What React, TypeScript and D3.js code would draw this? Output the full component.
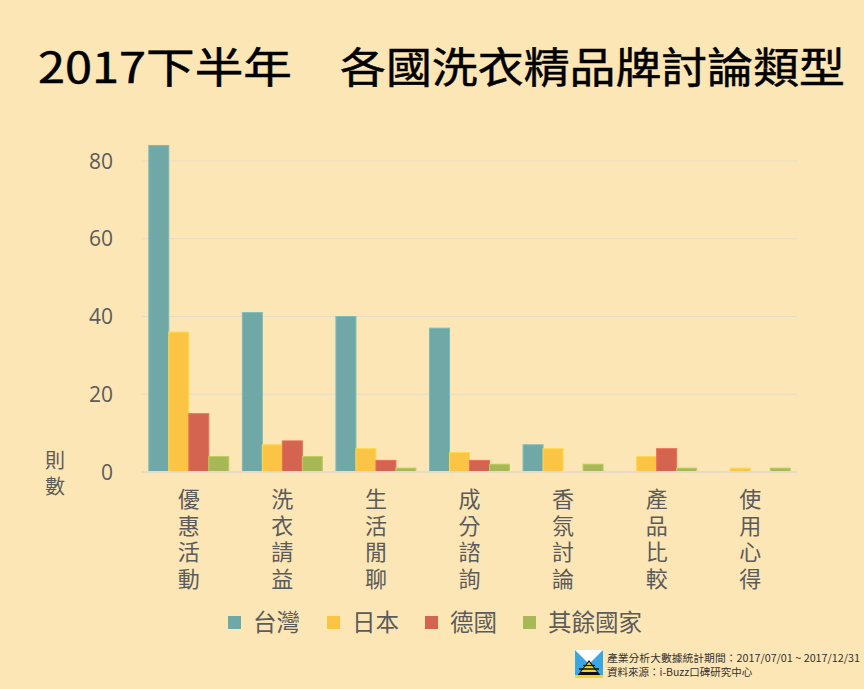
import React from "react";
import * as d3 from "d3";

const categories = ["優惠活動", "洗衣請益", "生活閒聊", "成分諮詢", "香氛討論", "產品比較", "使用心得"];
const seriesNames = ["台灣", "日本", "德國", "其餘國家"];
const taiwan = [84, 41, 40, 37, 7, 0, 0];
const japan = [36, 7, 6, 5, 6, 4, 1];
const germany = [15, 8, 3, 3, 0, 6, 0];
const others = [4, 4, 1, 2, 2, 1, 1];
const yTicks = [0, 20, 40, 60, 80];
const colors = ["#6fa8a6", "#fbc444", "#d4644f", "#a8b856"];

const W = 864, H = 689;
const BG = "#fde6b5";
const TXT = "#5b5b5b";

export default function App() {
  const series = [taiwan, japan, germany, others];
  const x = d3.scaleBand<string>().domain(categories).range([142, 797]).paddingInner(0).paddingOuter(0);
  const inner = d3.scaleBand<number>().domain(d3.range(4)).range([0, 80]);
  const y = d3.scaleLinear().domain([0, 80]).range([472, 161]);
  const groupOffset = (x.bandwidth() - 80) / 2;
  const font = "'Noto Sans CJK TC', 'Noto Sans', sans-serif";

  return (
    <div style={{ position: "fixed", left: 0, top: 0, width: W, height: H }}>
      <svg width={W} height={H} style={{ display: "block", background: BG }} fontFamily={font}>
        <rect width={W} height={H} fill={BG} />
        {/* Title */}
        <text x={38} y={83} fontSize={42} fontWeight={400} fill="#000" stroke="#000" strokeWidth={0.5} textLength={254} lengthAdjust="spacingAndGlyphs">2017下半年</text>
        <text x={340} y={83} fontSize={42} fontWeight={400} fill="#000" stroke="#000" strokeWidth={0.5} textLength={505} lengthAdjust="spacingAndGlyphs">各國洗衣精品牌討論類型</text>

        {/* Grid */}
        {yTicks.map((t) => (
          <g key={t}>
            <line x1={142} x2={797} y1={y(t)} y2={y(t)} stroke="#e6dcc4" strokeWidth={t === 0 ? 2 : 1.2} />
            <text x={113} y={y(t)} dy="0.36em" textAnchor="end" fontSize={21} fill={TXT} fontFamily="'Open Sans', 'Noto Sans', sans-serif">{t}</text>
          </g>
        ))}

        {/* Y label */}
        <text x={55} y={450} fontSize={20} fill={TXT} style={{ writingMode: "vertical-rl", letterSpacing: "6px" } as any}>則數</text>

        {/* Bars */}
        {categories.map((c, ci) => (
          <g key={c} transform={`translate(${(x(c) as number) + groupOffset},0)`}>
            {series.map((s, si) =>
              s[ci] > 0 ? (
                <rect
                  key={si}
                  x={inner(si) as number}
                  y={y(s[ci])}
                  width={inner.bandwidth()}
                  height={y(0) - y(s[ci])}
                  fill={colors[si]}
                  stroke={d3.color(colors[si])!.brighter(0.3).formatHex()}
                  strokeWidth={1}
                />
              ) : null
            )}
          </g>
        ))}
        <line x1={142} x2={797} y1={y(0)} y2={y(0)} stroke="#e6dcc4" strokeWidth={2} />

        {/* X labels (vertical) */}
        {categories.map((c) => (
          <text
            key={c}
            x={(x(c) as number) + x.bandwidth() / 2}
            y={488}
            fontSize={22}
            fill={TXT}
            style={{ writingMode: "vertical-rl", letterSpacing: "4.5px" } as any}
          >
            {c}
          </text>
        ))}

        {/* Legend */}
        {seriesNames.map((n, i) => {
          const lx = [228, 327, 425, 523][i];
          return (
            <g key={n}>
              <rect x={lx} y={616} width={13} height={13} fill={colors[i]} />
              <text x={lx + 25} y={631} fontSize={23.5} fill={TXT}>{n}</text>
            </g>
          );
        })}

        {/* Footer logo */}
        <g transform="translate(575,650)">
          <rect width={28} height={28} fill="#3aa7e0" />
          <polygon points="0,0 28,0 14,14" fill="#ffffff" />
          <polygon points="2,26 26,26 14,10" fill="#111" />
          <polygon points="6,22 22,22 14,12" fill="#f6d22c" />
          <rect x={0} y={25} width={28} height={3} fill="#f6d22c" />
          <line x1={4} x2={24} y1={19} y2={19} stroke="#111" strokeWidth={1.5} />
          <line x1={8} x2={20} y1={15.5} y2={15.5} stroke="#111" strokeWidth={1.2} />
        </g>
        <text x={607} y={662} fontSize={10.5} fill="#333" textLength={253} lengthAdjust="spacingAndGlyphs">產業分析大數據統計期間：2017/07/01 ~ 2017/12/31</text>
        <text x={607} y={676} fontSize={10.5} fill="#333">資料來源：i-Buzz口碑研究中心</text>
      </svg>
    </div>
  );
}
